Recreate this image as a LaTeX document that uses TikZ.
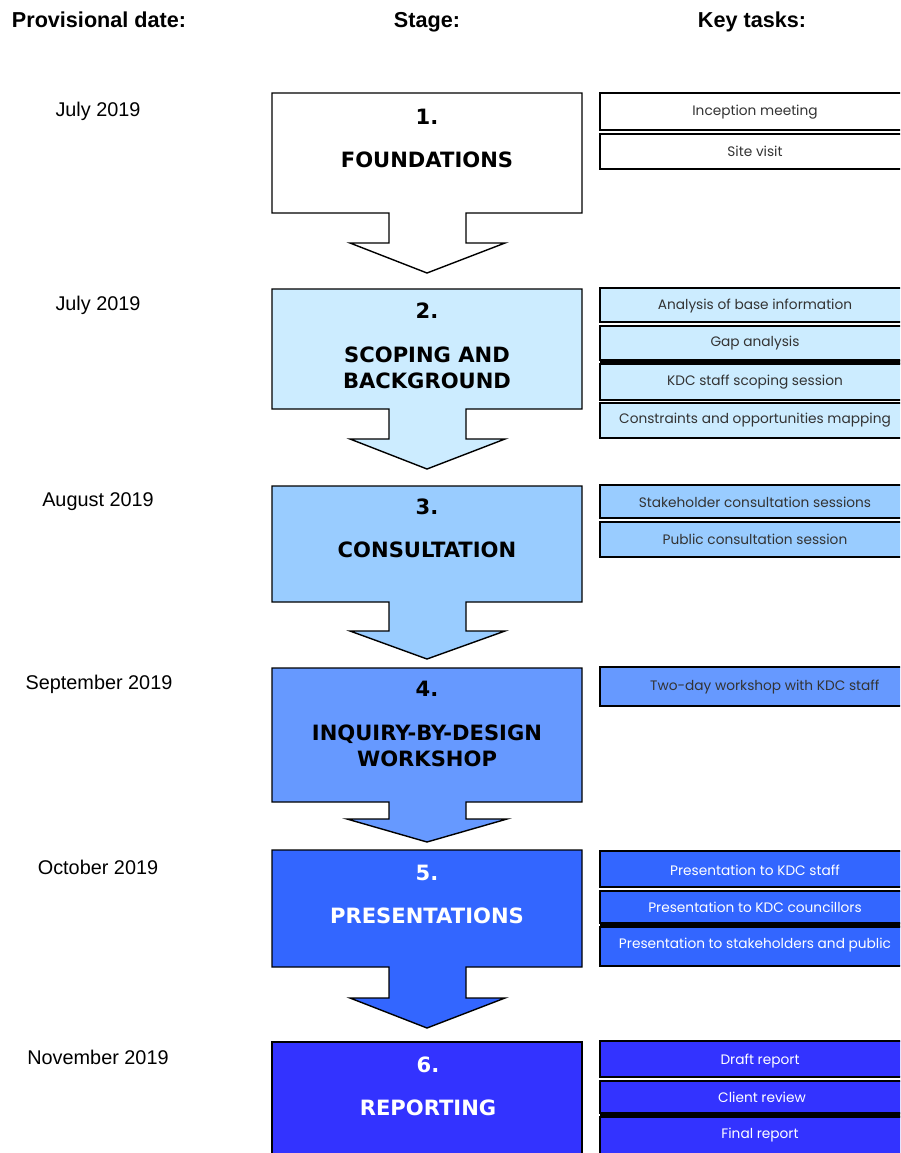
\documentclass[tikz,border=0pt]{standalone}
\usepackage{fontspec}
\usepackage{tikz}
\usepackage{xcolor}
\setmainfont{Liberation Sans}
\newfontfamily\stagefont{DejaVu Sans}
\newfontfamily\taskfont{Poppins}
\definecolor{stagetwo}{RGB}{204,236,255}
\definecolor{stagethree}{RGB}{153,204,255}
\definecolor{stagefour}{RGB}{102,153,255}
\definecolor{stagefive}{RGB}{51,102,255}
\definecolor{stagesix}{RGB}{51,51,255}
\tikzset{
  x=0.02cm,y=-0.02cm,
  heading/.style={font=\fontsize{12.3}{14}\selectfont\bfseries},
  datelabel/.style={font=\fontsize{11.3}{13}\selectfont},
  stagelabel/.style={font=\stagefont\fontsize{12}{15}\selectfont\bfseries,align=center},
  stageshape/.style={draw=black,line width=0.8pt,line join=miter},
  taskrow/.style={draw=black,line width=0.8pt},
  tasklabel/.style={font=\taskfont\fontsize{7.8}{9}\selectfont,text=black!80},
  whitelabel/.style={tasklabel,text=white}
}
\begin{document}
\begin{tikzpicture}
        \useasboundingbox (0,0) rectangle (900,1153);
        \clip (0,0) rectangle (900,1153);
        % column headings
        \node[heading] (hdate) at (99,20) {Provisional date:};
        \node[heading] (hstage) at (427,22) {Stage:};
        \node[heading] (htask) at (752,22) {Key tasks:};
        % dates
        \node[datelabel] (d1) at (98,111) {July 2019};
        \node[datelabel] (d2) at (98,305) {July 2019};
        \node[datelabel] (d3) at (98,502) {August 2019};
        \node[datelabel] (d4) at (99,684) {September 2019};
        \node[datelabel] (d5) at (98,867) {October 2019};
        \node[datelabel] (d6) at (98,1057) {November 2019};
        % stages with their arrows
        \filldraw[stageshape,fill=white] (272,93)--(582,93)--(582,213)--(466,213)--(466,243)--(505,243)--(427,273)--(350,243)--(389,243)--(389,213)--(272,213)--cycle;
        \filldraw[stageshape,fill=stagetwo] (272,289)--(582,289)--(582,409)--(466,409)--(466,439)--(505,439)--(427,469)--(350,439)--(389,439)--(389,409)--(272,409)--cycle;
        \filldraw[stageshape,fill=stagethree] (272,486)--(582,486)--(582,602)--(466,602)--(466,631)--(505,631)--(427,659)--(350,631)--(389,631)--(389,602)--(272,602)--cycle;
        \filldraw[stageshape,fill=stagefour] (272,668)--(582,668)--(582,802)--(466,802)--(466,819)--(507,819)--(427,842)--(347,819)--(389,819)--(389,802)--(272,802)--cycle;
        \filldraw[stageshape,fill=stagefive] (272,850)--(582,850)--(582,967)--(466,967)--(466,998)--(505,998)--(427,1028)--(350,998)--(389,998)--(389,967)--(272,967)--cycle;
        \filldraw[stageshape,fill=stagesix] (272,1042) rectangle (582,1170);
        \node[stagelabel] (s1) at (427,117) {1.};
        \node[stagelabel] (s1t) at (427,160) {FOUNDATIONS};
        \node[stagelabel] (s2) at (427,311) {2.};
        \node[stagelabel] (s2t) at (427,368) {SCOPING AND\\BACKGROUND};
        \node[stagelabel] (s3) at (427,507) {3.};
        \node[stagelabel] (s3t) at (427,550) {CONSULTATION};
        \node[stagelabel] (s4) at (427,689) {4.};
        \node[stagelabel] (s4t) at (427,746) {INQUIRY-BY-DESIGN\\WORKSHOP};
        \node[stagelabel,text=white] (s5) at (427,873) {5.};
        \node[stagelabel,text=white] (s5t) at (427,916) {PRESENTATIONS};
        \node[stagelabel,text=white] (s6) at (428,1065) {6.};
        \node[stagelabel,text=white] (s6t) at (428,1108) {REPORTING};
        % key tasks
        \filldraw[taskrow,fill=white] (600,93) rectangle (910,130);
        \filldraw[taskrow,fill=white] (600,134) rectangle (910,169);
        \node[tasklabel] (t1a) at (755,112) {Inception meeting};
        \node[tasklabel] (t1b) at (755,151) {Site visit};

        \filldraw[taskrow,fill=stagetwo] (600,288) rectangle (910,322);
        \filldraw[taskrow,fill=stagetwo] (600,326) rectangle (910,360);
        \fill (600,360) rectangle (910,364);
        \filldraw[taskrow,fill=stagetwo] (600,364) rectangle (910,400);
        \filldraw[taskrow,fill=stagetwo] (600,403) rectangle (910,438);
        \node[tasklabel] (t2a) at (755,306) {Analysis of base information};
        \node[tasklabel] (t2b) at (755,343) {Gap analysis};
        \node[tasklabel] (t2c) at (755,382) {KDC staff scoping session};
        \node[tasklabel] (t2d) at (755,420) {Constraints and opportunities mapping};

        \filldraw[taskrow,fill=stagethree] (600,485) rectangle (910,518);
        \filldraw[taskrow,fill=stagethree] (600,522) rectangle (910,557);
        \node[tasklabel] (t3a) at (755,502) {Stakeholder consultation sessions};
        \node[tasklabel] (t3b) at (755,539) {Public consultation session};

        \filldraw[taskrow,fill=stagefour] (600,667) rectangle (910,706);
        \node[tasklabel,anchor=west] (t4a) at (644,687) {Two-day workshop with KDC staff};

        \filldraw[taskrow,fill=stagefive] (600,851) rectangle (910,887);
        \filldraw[taskrow,fill=stagefive] (600,891) rectangle (910,923);
        \fill (600,923) rectangle (910,927);
        \filldraw[taskrow,fill=stagefive] (600,927) rectangle (910,966);
        \node[whitelabel] (t5a) at (755,870) {Presentation to KDC staff};
        \node[whitelabel] (t5b) at (755,907) {Presentation to KDC councillors};
        \node[whitelabel] (t5c) at (755,945) {Presentation to stakeholders and public};

        \filldraw[taskrow,fill=stagesix] (600,1041) rectangle (910,1077);
        \filldraw[taskrow,fill=stagesix] (600,1081) rectangle (910,1113);
        \fill (600,1113) rectangle (910,1117);
        \filldraw[taskrow,fill=stagesix] (600,1117) rectangle (910,1170);
        \node[whitelabel] (t6a) at (760,1061) {Draft report};
        \node[whitelabel] (t6b) at (762,1097) {Client review};
        \node[whitelabel] (t6c) at (760,1135) {Final report};
    \end{tikzpicture}
\end{document}
